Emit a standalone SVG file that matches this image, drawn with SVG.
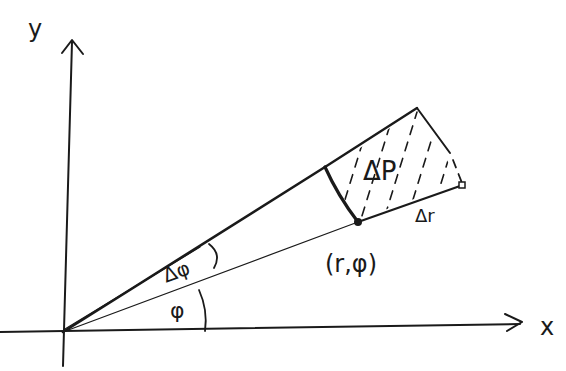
<svg xmlns="http://www.w3.org/2000/svg" width="566" height="371" viewBox="0 0 566 371">
<style>
.ln{fill:none;stroke:#1a1a1a;stroke-linecap:round;stroke-linejoin:round}
.t{font-family:"DejaVu Sans","Liberation Sans",sans-serif;fill:#1a1a1a}
</style>
<defs>
<clipPath id="sec"><path d="M327,170 L417,110 L460,182 L360,219 Q340,196 327,170 Z"/></clipPath>
</defs>
<rect width="566" height="371" fill="#fff"/>
<g id="axes">
<path class="ln" stroke-width="2" d="M63,366 L72,42"/>
<path class="ln" stroke-width="2" d="M62,53 L72,40 L83,54"/>
<path class="ln" stroke-width="2" d="M0,332 L520,324"/>
<path class="ln" stroke-width="2" d="M505,314 L522,322 L507,331"/>
</g>
<g id="rays">
<path class="ln" stroke-width="2.6" d="M63,332 L325,167"/>
<path class="ln" stroke-width="1.3" d="M65,329 L200,247"/>
<path class="ln" stroke-width="1.2" d="M63,332 L358,222"/>
</g>
<g id="sector">
<g clip-path="url(#sec)" class="ln" stroke="#b0b0b0" stroke-width="1.6" stroke-dasharray="9 8">
<path d="M335,232 L372,112"/>
<path d="M357,232 L394,112"/>
<path d="M380,232 L417,112"/>
<path d="M403,232 L440,112"/>
<path d="M426,232 L463,112"/>
</g>
<path class="ln" stroke-width="3.2" d="M325,167 Q338,196 358,222"/>
<path class="ln" stroke-width="2.4" d="M325,167 L417,108"/>
<path class="ln" stroke-width="2" d="M417,108 L450,153"/>
<path class="ln" stroke-width="1.8" stroke-dasharray="8 7" d="M453,160 L462,183"/>
<path class="ln" stroke-width="2.2" d="M358,222 L460,186"/>
<rect x="459" y="182" width="6" height="6" fill="#fff" stroke="#1a1a1a" stroke-width="1.5"/>
<circle cx="358" cy="222" r="4" fill="#1a1a1a"/>
</g>
<g id="angles">
<path class="ln" stroke-width="1.8" d="M199,290 Q208,310 205,331"/>
<path class="ln" stroke-width="1.8" d="M209,244 Q222,254 214,268"/>
</g>
<g id="labels">
<text class="t" x="28" y="37" font-size="24">y</text>
<text class="t" x="540" y="335" font-size="24">x</text>
<text class="t" x="363" y="180" font-size="26">ΔP</text>
<text class="t" x="415" y="222" font-size="18">Δr</text>
<text class="t" x="166" y="282" font-size="20" transform="rotate(-20 168 282)">Δφ</text>
<text class="t" x="170" y="318" font-size="22">φ</text>
<text class="t" x="325" y="272" font-size="24">(r,φ)</text>
</g>
</svg>
